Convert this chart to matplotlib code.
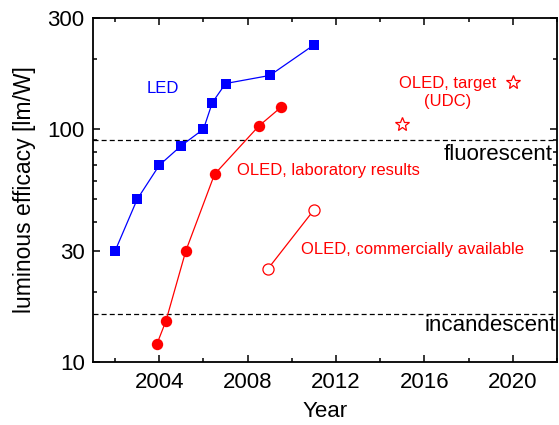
import matplotlib
matplotlib.use('Agg')
from matplotlib import pyplot as plt
from matplotlib.ticker import FixedLocator, FixedFormatter, NullFormatter

plt.rcParams['font.family'] = ['Liberation Sans', 'DejaVu Sans']

led_years = [2002, 2003, 2004, 2005, 2006, 2006.4, 2007, 2009, 2011]
led_eff = [30, 50, 70, 85, 100, 130, 157, 170, 230]

oled_lab_years = [2003.9, 2004.3, 2005.2, 2006.5, 2008.5, 2009.5]
oled_lab_eff = [12, 15, 30, 64, 103, 124]

oled_com_years = [2008.9, 2011]
oled_com_eff = [25, 45]

target_years = [2015, 2020]
target_eff = [105, 160]

fluorescent = 90
incandescent = 16

blue = '#0000ff'
red = '#ff0000'

fig = plt.figure(figsize=(5.59, 4.25), dpi=100)
ax = fig.add_axes([0.1664, 0.1482, 0.8300, 0.8094])

ax.axhline(fluorescent, color='black', ls=(0, (4, 2.5)), lw=0.9)
ax.axhline(incandescent, color='black', ls=(0, (4, 2.5)), lw=0.9)

ax.plot(led_years, led_eff, color=blue, lw=0.9, marker='s', ms=7.6,
        markeredgewidth=0)
ax.plot(oled_lab_years, oled_lab_eff, color=red, lw=0.9, marker='o', ms=8.2,
        markeredgewidth=0)
ax.plot(oled_com_years, oled_com_eff, color=red, lw=0.9, marker='o', ms=8,
        markerfacecolor='white', markeredgewidth=0.9)
ax.plot(target_years, target_eff, ls='none', marker='*', ms=10.5,
        markerfacecolor='white', markeredgecolor=red, markeredgewidth=0.9)

ax.set_yscale('log')
ax.set_xlim(2001, 2022)
ax.set_ylim(10, 300)

ax.xaxis.set_major_locator(FixedLocator([2004, 2008, 2012, 2016, 2020]))
ax.xaxis.set_minor_locator(FixedLocator([2002, 2006, 2010, 2014, 2018, 2022]))
ax.yaxis.set_major_locator(FixedLocator([10, 30, 100, 300]))
ax.yaxis.set_minor_locator(FixedLocator([20, 40, 50, 60, 70, 80, 90, 200]))
ax.yaxis.set_major_formatter(FixedFormatter(['10', '30', '100', '300']))
ax.yaxis.set_minor_formatter(NullFormatter())

ax.tick_params(which='both', direction='in', top=True, right=True,
               labelsize=16, width=1.1)
ax.tick_params(which='major', length=5)
ax.tick_params(which='minor', length=3)
ax.tick_params(axis='x', pad=7)
ax.tick_params(axis='y', pad=6)
for s in ax.spines.values():
    s.set_linewidth(1.3)

ax.set_ylabel('luminous efficacy [lm/W]', fontsize=16.5, labelpad=8)
ax.set_xlabel('Year', fontsize=16)
ax.xaxis.set_label_coords(0.5, -0.112)
ax.xaxis.label.set_va('top')

ax.text(2004.18, 150, 'LED', color=blue, fontsize=12, ha='center', va='center')
ax.text(2017.05, 144, 'OLED, target\n(UDC)', color=red, fontsize=12,
        ha='center', va='center', linespacing=1.25)
ax.text(2007.5, 66.7, 'OLED, laboratory results', color=red, fontsize=12,
        ha='left', va='center')
ax.text(2010.43, 30.3, 'OLED, commercially available', color=red, fontsize=12,
        ha='left', va='center')
ax.text(2021.8, 78, 'fluorescent', color='black', fontsize=16,
        ha='right', va='center')
ax.text(2021.98, 14.3, 'incandescent', color='black', fontsize=16,
        ha='right', va='center')

fig.savefig('out.png', dpi=100)
